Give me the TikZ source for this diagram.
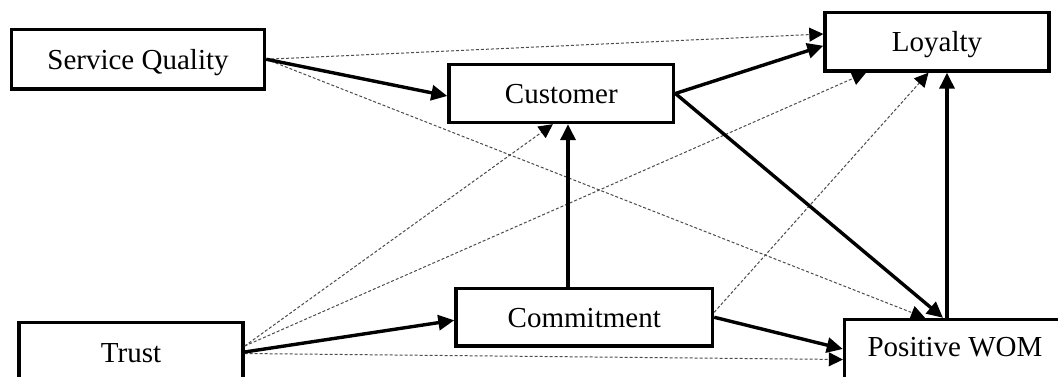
\documentclass[tikz,border=0pt]{standalone}
\usepackage{fontspec}
\setmainfont{Liberation Serif}
\usetikzlibrary{arrows.meta}
\begin{document}
\begin{tikzpicture}[x=1pt,y=-1pt,
  box/.style={draw, line width=3.4pt, rectangle, inner sep=0pt, text height=20pt, text depth=0pt, font=\fontsize{29}{34}\selectfont},
  strong/.style={line width=3.4pt, -{Triangle[length=16pt,width=15pt]}},
  weak/.style={draw=black!70, line width=1pt, dash pattern=on 3pt off 2pt, -{Triangle[length=14pt,width=14pt,color=black]}}]
\useasboundingbox (0,0) rectangle (1058,377);
\clip (0,0) rectangle (1058,377);
\fill[white] (0,0) rectangle (1058,377);
% boxes
\node[box, minimum width=253pt, minimum height=59.5pt] (sq) at (138,59.25) {Service Quality};
\node[box, minimum width=224.7pt, minimum height=58pt] (cu) at (561.35,93.5) {Customer};
\node[box, minimum width=224pt, minimum height=58.5pt] (lo) at (937,41.75) {Loyalty};
\node[box, minimum width=256.5pt, minimum height=57.5pt] (co) at (584.25,317.25) {Commitment};
\node[box, minimum width=224pt, minimum height=59pt] (tr) at (131,352) {Trust};
\node[box, minimum width=221pt, minimum height=59pt, text depth=6pt] (pw) at (955,349) {Positive WOM};
% dashed connectors
\draw[weak] (sq.east) -- ([yshift=7.75pt]lo.west);
\draw[weak] (sq.east) -- ([xshift=-30pt]pw.north);
\draw[weak] ([yshift=6pt]tr.east) -- ([xshift=-8.5pt]cu.south);
\draw[weak] ([yshift=6pt]tr.east) -- ([xshift=-71pt]lo.south);
\draw[weak] ([yshift=-1.5pt]tr.east) -- ([yshift=-10.5pt]pw.west);
\draw[weak] ([yshift=5pt]co.east) -- ([xshift=-8.5pt]lo.south);
% solid connectors
\draw[strong] (sq.east) -- ([yshift=-2.5pt]cu.west);
\draw[strong] (cu.east) -- ([yshift=-4pt]lo.west);
\draw[strong] (cu.east) -- ([xshift=-12pt]pw.north);
\draw[strong] ([xshift=-16.25pt]co.north) -- ([xshift=-16.25pt]co.north |- cu.south);
\draw[strong] (tr.east) -- ([yshift=-3pt]co.west);
\draw[strong] (co.east) -- (pw.west);
\draw[strong] ([xshift=-8pt]pw.north) -- ([xshift=-8pt]pw.north |- lo.south);
\end{tikzpicture}
\end{document}
